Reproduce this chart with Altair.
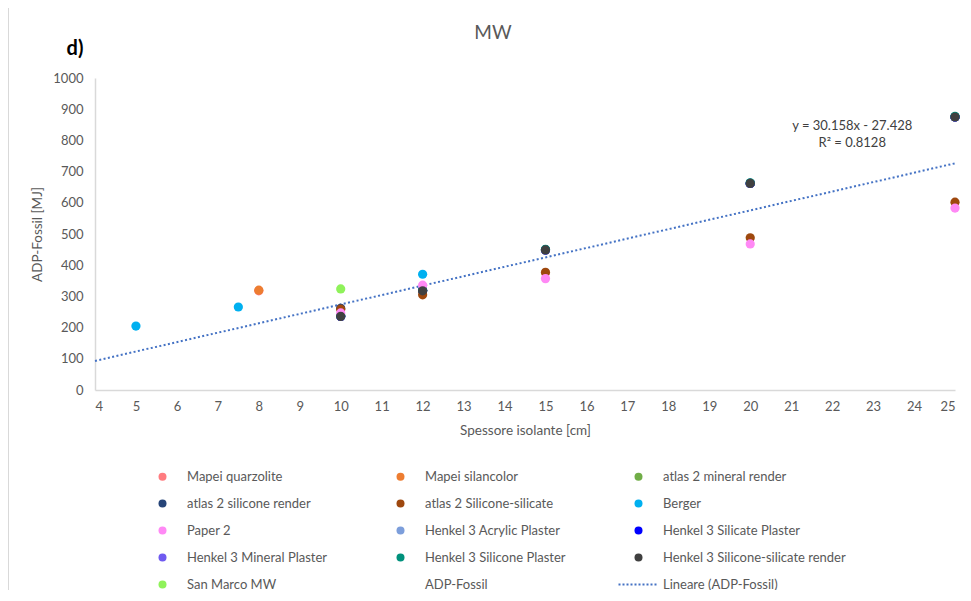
import altair as alt
import pandas as pd

FONT = "Lato"
GREY = "#595959"

# ---- legend / series definitions (listed column by column, as Vega fills the legend grid) ----
series_order = [
    "Mapei quarzolite", "atlas 2 silicone render", "Paper 2",
    "Henkel 3 Mineral Plaster", "San Marco MW",
    "Mapei silancolor", "atlas 2 Silicone-silicate", "Henkel 3 Acrylic Plaster",
    "Henkel 3 Silicone Plaster", "ADP-Fossil",
    "atlas 2 mineral render", "Berger", "Henkel 3 Silicate Plaster",
    "Henkel 3 Silicone-silicate render", "Lineare (ADP-Fossil)",
]
series_colors = [
    "#FF7C80", "#264478", "#FF89F5",
    "#6F5AF0", "#8FF25A",
    "#ED7D31", "#9E480E", "#7C9EDB",
    "#00917C", "rgba(0,0,0,0)",
    "#70AD47", "#00B0F0", "#0000FF",
    "#404040", "#4472C4",
]

# ---- data ----
# hidden series (drawn underneath the visible ones)
x_hidden = [10, 12, 15, 20, 25]
y_atlas_mineral = [236, 318, 449, 662, 875]
y_atlas_silicone = [262, 320, 449, 662, 875]
y_henkel_acrylic = [236, 318, 449, 662, 875]
y_henkel_silicate = [236, 318, 449, 662, 875]
y_henkel_mineral = [236, 318, 449, 662, 875]
y_henkel_silicone = [238, 320, 451, 664, 877]
x_quarzolite = [8]
y_quarzolite = [318]
# visible series
x_berger = [5, 7.5, 12]
y_berger = [205, 266, 371]
x_silancolor = [8]
y_silancolor = [320]
x_sanmarco = [10]
y_sanmarco = [324]
x_atlas_ss = [10, 12, 15, 20, 25]
y_atlas_ss = [259, 305, 377, 488, 602]
x_paper2 = [10, 12, 15, 20, 25]
y_paper2 = [247, 336, 357, 468, 583]
x_henkel_ss = [10, 12, 15, 20, 25]
y_henkel_ss = [236, 318, 449, 662, 875]

# trend line (Excel linear fit shown on chart)
trend_slope = 30.158
trend_intercept = -27.428
trend_x_range = [4, 25]
equation_text = ["y = 30.158x - 27.428\nR² = 0.8128"]
equation_pos = [22.49, 846]

x_ticks = list(range(4, 26))
y_ticks = list(range(0, 1001, 100))

rows = []
def add(name, xs, ys):
    for a, b in zip(xs, ys):
        rows.append({"series": name, "x": a, "y": b})

add("atlas 2 mineral render", x_hidden, y_atlas_mineral)
add("atlas 2 silicone render", x_hidden, y_atlas_silicone)
add("Henkel 3 Acrylic Plaster", x_hidden, y_henkel_acrylic)
add("Henkel 3 Silicate Plaster", x_hidden, y_henkel_silicate)
add("Henkel 3 Mineral Plaster", x_hidden, y_henkel_mineral)
add("Henkel 3 Silicone Plaster", x_hidden, y_henkel_silicone)
add("Mapei quarzolite", x_quarzolite, y_quarzolite)
add("Berger", x_berger, y_berger)
add("Mapei silancolor", x_silancolor, y_silancolor)
add("San Marco MW", x_sanmarco, y_sanmarco)
add("atlas 2 Silicone-silicate", x_atlas_ss, y_atlas_ss)
add("Paper 2", x_paper2, y_paper2)
add("Henkel 3 Silicone-silicate render", x_henkel_ss, y_henkel_ss)
df = pd.DataFrame(rows)
df["order"] = range(len(df))

# legend symbol shapes: circles, an empty one, and a dotted line
dots = "".join(f"M{-5 + i * 1.0:.2f},-0.25h0.5v0.5h-0.5Z" for i in range(10))
shapes = []
for name in series_order:
    if name == "ADP-Fossil":
        shapes.append("M0,0")
    elif name == "Lineare (ADP-Fossil)":
        shapes.append(dots)
    else:
        shapes.append("circle")

legend = alt.Legend(
    title=None, orient="none", legendX=61, legendY=392, columns=3,
    columnPadding=10, rowPadding=13, gridAlign="all",
    symbolSize=64, symbolStrokeWidth=0, symbolOpacity=1,
    labelFont=FONT, labelFontSize=13, labelColor=GREY, labelOffset=18, labelLimit=300,
)

xscale = alt.Scale(domain=[4, 25], nice=False, zero=False)
yscale = alt.Scale(domain=[0, 1000], nice=False)

xaxis = alt.Axis(values=x_ticks, title="Spessore isolante [cm]", grid=False, ticks=False,
                 domainColor="#D9D9D9", domainWidth=1.5, labelFont=FONT, labelFontSize=13,
                 labelColor=GREY, labelPadding=10, labelOverlap=False, titleFont=FONT,
                 titleFontSize=13.5, titleFontWeight="normal", titleColor=GREY, titlePadding=10)
yaxis = alt.Axis(values=y_ticks, format="d", title="ADP-Fossil [MJ]", grid=False, ticks=False,
                 domainColor="#D9D9D9", domainWidth=1.5, labelFont=FONT, labelFontSize=13,
                 labelColor=GREY, labelPadding=12, labelOverlap=False, titleFont=FONT,
                 titleFontSize=13.5, titleFontWeight="normal", titleColor=GREY, titlePadding=8)

X = lambda: alt.X("x:Q", scale=xscale, axis=xaxis)
Y = lambda: alt.Y("y:Q", scale=yscale, axis=yaxis)

points = alt.Chart(df).mark_point(filled=True, size=85, opacity=1, strokeWidth=0).encode(
    x=X(), y=Y(),
    color=alt.Color("series:N", scale=alt.Scale(domain=series_order, range=series_colors), legend=legend),
    shape=alt.Shape("series:N", scale=alt.Scale(domain=series_order, range=shapes), legend=legend),
    order=alt.Order("order:Q"),
)

trend_df = pd.DataFrame({"x": trend_x_range})
trend = alt.Chart(trend_df).transform_calculate(
    y=f"{trend_slope} * datum.x + ({trend_intercept})"
).mark_line(color="#4472C4", strokeDash=[2, 2.4], strokeWidth=2).encode(x=X(), y=Y())

eq_df = pd.DataFrame({"x": [equation_pos[0]], "y": [equation_pos[1]], "t": equation_text})
eq = alt.Chart(eq_df).mark_text(font=FONT, fontSize=13, color="#404040", align="center",
                                baseline="middle", lineBreak="\n", lineHeight=17).encode(
    x=X(), y=Y(), text="t:N")

tag_df = pd.DataFrame({"t": ["d)"]})
tag = alt.Chart(tag_df).mark_text(font=FONT, fontSize=20, fontWeight="bold", color="#000000",
                                  align="center", baseline="middle").encode(
    x=alt.value(-20), y=alt.value(-29), text="t:N")

title_df = pd.DataFrame({"t": ["MW"]})
title = alt.Chart(title_df).mark_text(font=FONT, fontSize=19, color=GREY,
                                      align="center", baseline="middle").encode(
    x=alt.value(398), y=alt.value(-45), text="t:N")

# faint chart-area frame (top and left edges visible in the reference)
frame_df = pd.DataFrame({"k": [0]})
frame = alt.Chart(frame_df).mark_rect(fill=None, stroke="#D9D9D9", strokeWidth=1).encode(
    x=alt.value(-86.5), x2=alt.value(900), y=alt.value(-72.5), y2=alt.value(560))

chart = alt.layer(frame, trend, points, eq, tag, title).properties(
    width=860, height=312,
    autosize=alt.AutoSizeParams(type="none"),
    padding={"left": 87, "top": 70, "right": 6, "bottom": 200},
).configure_view(stroke=None)

chart.save("out.html", embed_options={"renderer": "svg", "actions": False})
